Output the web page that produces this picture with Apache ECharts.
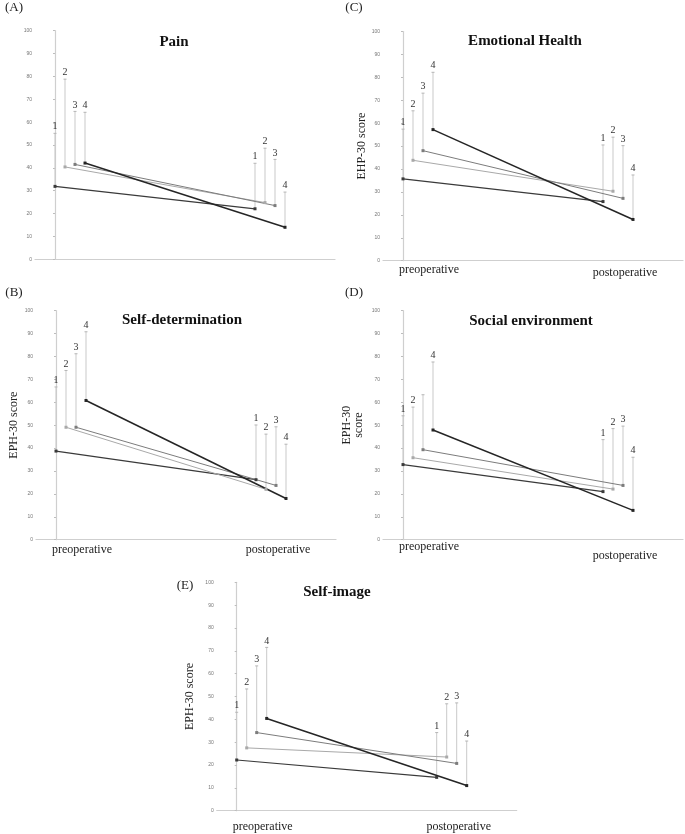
<!DOCTYPE html>
<html>
<head>
<meta charset="utf-8">
<script src="https://cdn.jsdelivr.net/npm/echarts@6/dist/echarts.min.js"></script>
<style>
html,body{margin:0;padding:0;background:#fff;}
#chart{width:685px;height:834px;}
</style>
</head>
<body>
<div id="chart"></div>
<script>
// ---- data ----
const timepoints = ['preoperative', 'postoperative'];
const groupNames = ['1', '2', '3', '4'];
const yTicks = [0, 10, 20, 30, 40, 50, 60, 70, 80, 90, 100];

// (A) Pain
const painPre = [31.9, 40.4, 41.5, 42.1];
const painPreUpper = [55.1, 78.8, 64.7, 64.3];
const painPost = [22.1, 24.8, 23.5, 14.0];
const painPostUpper = [42.0, 48.6, 43.7, 29.4];

// (B) Self-determination
const detPre = [38.7, 49.1, 49.1, 60.8];
const detPreUpper = [66.7, 73.9, 81.2, 90.8];
const detPost = [26.2, 22.0, 23.7, 18.0];
const detPostUpper = [50.1, 46.1, 49.3, 41.7];

// (C) Emotional Health
const emoPre = [35.7, 43.8, 48.0, 57.2];
const emoPreUpper = [57.4, 65.4, 73.1, 82.2];
const emoPost = [25.8, 30.3, 27.2, 18.0];
const emoPostUpper = [50.5, 53.9, 50.2, 37.4];

// (D) Social environment
const socPre = [32.8, 35.8, 39.3, 47.9];
const socPreUpper = [54.1, 57.9, 63.3, 77.6];
const socPost = [21.0, 22.1, 23.7, 12.8];
const socPostUpper = [43.7, 48.5, 49.6, 36.0];
const socPreLabels = ['1', '2', '', '4'];

// (E) Self-image
const imgPre = [22.2, 27.5, 34.2, 40.4];
const imgPreUpper = [43.1, 53.3, 63.4, 71.5];
const imgPost = [14.6, 23.5, 20.7, 11.0];
const imgPostUpper = [34.2, 46.8, 47.2, 30.5];

// ---- layout / style ----
const SERIF = '"Liberation Serif", "DejaVu Serif", serif';
const groupOffset = 0.05;
const lineColors = ['#3a3a3a', '#a9a9a9', '#7c7c7c', '#252525'];
const lineWidths = [1.2, 1, 1, 1.5];

const panels = [
  { letter: '(A)', title: 'Pain', pre: painPre, preUp: painPreUpper, post: painPost, postUp: painPostUpper,
    grid: { left: 35, top: 30.7, width: 300, height: 228.6 }, titlePos: [174, 42], letterPos: [14, 8],
    yName: '', nameGap: 0, showCats: false, catMargin: 3, postDrop: 0 },
  { letter: '(B)', title: 'Self-determination', pre: detPre, preUp: detPreUpper, post: detPost, postUp: detPostUpper,
    grid: { left: 36, top: 310.7, width: 300, height: 229 }, titlePos: [182, 320], letterPos: [14, 293],
    yName: 'EPH-30 score', nameGap: 16, showCats: true, catMargin: 4, postDrop: 0 },
  { letter: '(C)', title: 'Emotional Health', pre: emoPre, preUp: emoPreUpper, post: emoPost, postUp: emoPostUpper,
    grid: { left: 383, top: 31.5, width: 300, height: 229.2 }, titlePos: [525, 41], letterPos: [354, 8],
    yName: 'EHP-30 score', nameGap: 15, showCats: true, catMargin: 3, postDrop: 3 },
  { letter: '(D)', title: 'Social environment', pre: socPre, preUp: socPreUpper, post: socPost, postUp: socPostUpper,
    grid: { left: 383, top: 310.7, width: 300, height: 229 }, titlePos: [531, 321], letterPos: [354, 293],
    yName: 'EPH-30\nscore', nameGap: 18, showCats: true, catMargin: 1, postDrop: 9, preLabels: socPreLabels },
  { letter: '(E)', title: 'Self-image', pre: imgPre, preUp: imgPreUpper, post: imgPost, postUp: imgPostUpper,
    grid: { left: 216.7, top: 582.3, width: 300, height: 228.4 }, titlePos: [337, 592], letterPos: [185, 586],
    yName: 'EPH-30 score', nameGap: 21, showCats: true, catMargin: 10, postDrop: 0 }
];

const grids = [], xAxes = [], yAxes = [], series = [], graphics = [];

panels.forEach((p, i) => {
  grids.push(Object.assign({ containLabel: false }, p.grid));
  xAxes.push({
    type: 'value', gridIndex: i, min: -0.1, max: 1.4,
    axisLine: { show: true, onZero: false, lineStyle: { color: '#cfcfcf', width: 1.2 } },
    axisTick: { show: false },
    splitLine: { show: false },
    axisLabel: {
      show: p.showCats,
      customValues: [0.13, 1.11],
      margin: p.catMargin,
      formatter: v => (v < 0.5 ? '{a|' + timepoints[0] + '}' : '{b|' + timepoints[1] + '}'),
      rich: {
        a: { fontFamily: SERIF, fontSize: 12, color: '#222' },
        b: { fontFamily: SERIF, fontSize: 12, color: '#222', padding: [p.postDrop, 0, 0, 0] }
      }
    }
  });
  yAxes.push({
    type: 'value', gridIndex: i, min: 0, max: 100, interval: 10,
    axisLine: { show: true, lineStyle: { color: '#cfcfcf', width: 1.2 } },
    axisTick: { show: true, length: 2, lineStyle: { color: '#bdbdbd' } },
    splitLine: { show: false },
    axisLabel: { fontSize: 5, color: '#777', margin: 3, fontFamily: 'Liberation Sans, sans-serif' },
    name: p.yName, nameLocation: 'middle', nameRotate: 90, nameGap: p.nameGap,
    nameTextStyle: { fontFamily: SERIF, fontSize: 12, color: '#222', lineHeight: 12 }
  });

  // error bars (upward) with group numbers
  const ebData = [];
  const ebLabels = [];
  groupNames.forEach((g, k) => {
    ebData.push([0 + k * groupOffset, p.pre[k], p.preUp[k]]);
    ebLabels.push(p.preLabels ? p.preLabels[k] : g);
    ebData.push([1 + k * groupOffset, p.post[k], p.postUp[k]]);
    ebLabels.push(g);
  });
  series.push({
    type: 'custom', xAxisIndex: i, yAxisIndex: i, z: 1, silent: true,
    data: ebData,
    renderItem: (params, api) => {
      const x = api.value(0);
      const a = api.coord([x, api.value(1)]);
      const b = api.coord([x, api.value(2)]);
      const lbl = ebLabels[params.dataIndex];
      const children = [
        { type: 'line', shape: { x1: a[0], y1: a[1], x2: b[0], y2: b[1] }, style: { stroke: '#c9c9c9', lineWidth: 1 } },
        { type: 'line', shape: { x1: b[0] - 1.5, y1: b[1], x2: b[0] + 1.5, y2: b[1] }, style: { stroke: '#b5b5b5', lineWidth: 1 } }
      ];
      if (lbl) {
        children.push({ type: 'text', x: b[0], y: b[1] - 1.5,
          style: { text: lbl, textAlign: 'center', textVerticalAlign: 'bottom', font: '10px ' + SERIF, fill: '#333' } });
      }
      return { type: 'group', children };
    }
  });

  // group lines
  groupNames.forEach((g, k) => {
    series.push({
      type: 'line', name: g, xAxisIndex: i, yAxisIndex: i, z: 3,
      data: [[0 + k * groupOffset, p.pre[k]], [1 + k * groupOffset, p.post[k]]],
      symbol: 'rect', symbolSize: 3, showSymbol: true,
      lineStyle: { color: lineColors[k], width: lineWidths[k] },
      itemStyle: { color: lineColors[k] },
      silent: true
    });
  });

  graphics.push({ type: 'text', x: p.titlePos[0], y: p.titlePos[1],
    style: { text: p.title, font: 'bold 15px ' + SERIF, fill: '#111', textAlign: 'center', textVerticalAlign: 'middle' } });
  graphics.push({ type: 'text', x: p.letterPos[0], y: p.letterPos[1],
    style: { text: p.letter, font: '13px ' + SERIF, fill: '#222', textAlign: 'center', textVerticalAlign: 'middle' } });
});

const chart = echarts.init(document.getElementById('chart'), null, { renderer: 'canvas' });
chart.setOption({
  animation: false,
  backgroundColor: '#fff',
  grid: grids,
  xAxis: xAxes,
  yAxis: yAxes,
  series: series,
  graphic: graphics
});
</script>
</body>
</html>
